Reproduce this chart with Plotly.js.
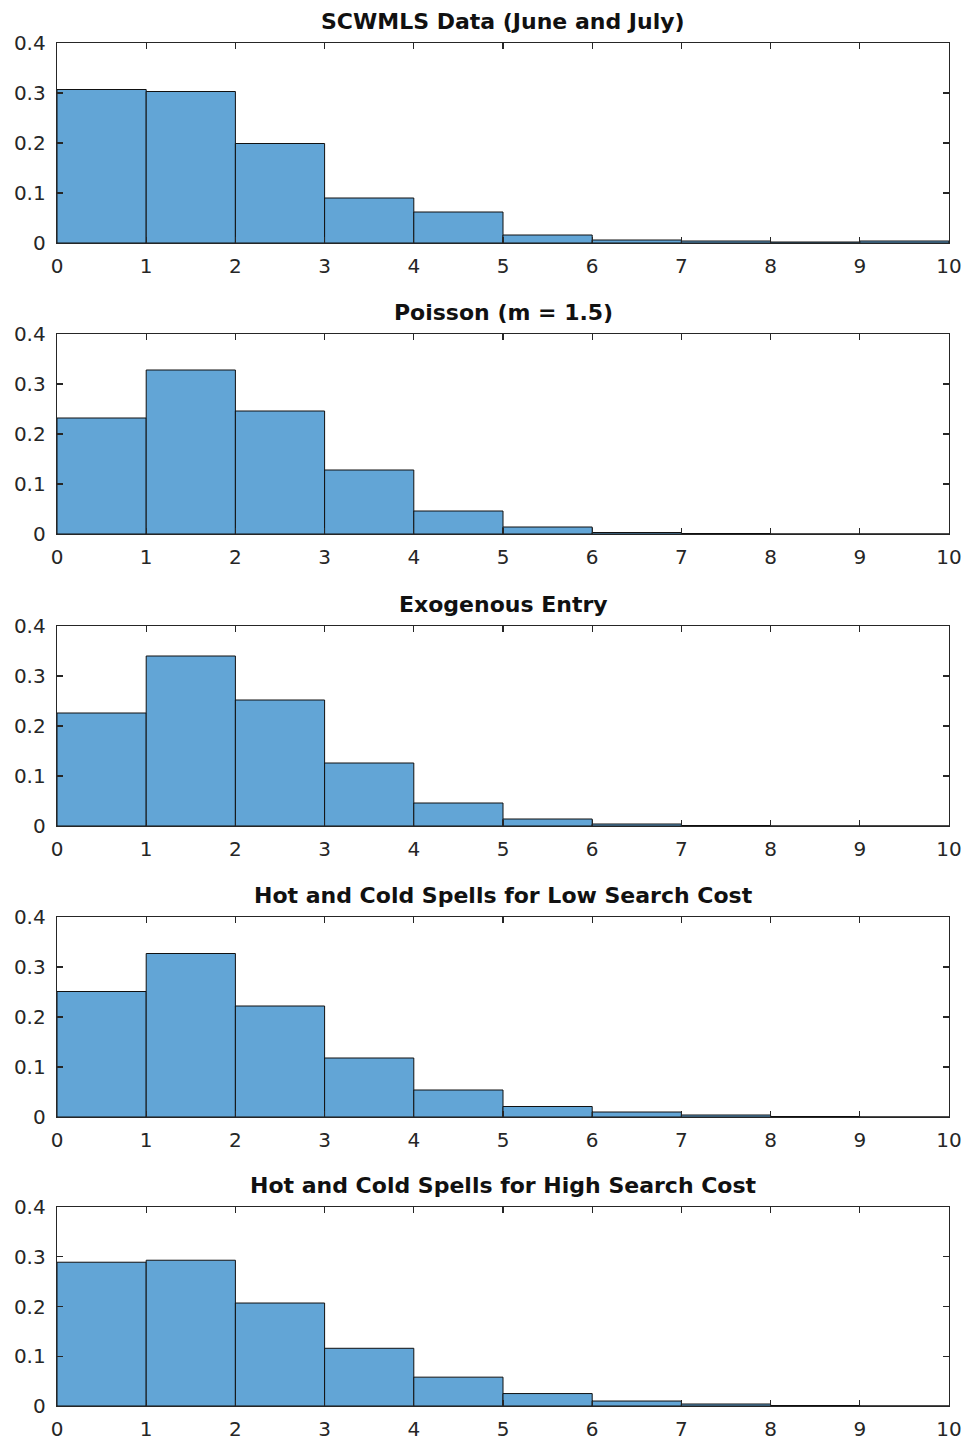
<!DOCTYPE html>
<html>
<head>
<meta charset="utf-8">
<script src="https://cdn.plot.ly/plotly-3.0.1.min.js"></script>
<style>html,body{margin:0;padding:0;background:#fff;}#chart{width:968px;height:1442px;}</style>
</head>
<body>
<div id="chart"></div>
<script>
// Histogram data (bin edges 0..10, probability per bin)
const binEdges = [0,1,2,3,4,5,6,7,8,9,10];
const titles = [
  "SCWMLS Data (June and July)",
  "Poisson (m = 1.5)",
  "Exogenous Entry",
  "Hot and Cold Spells for Low Search Cost",
  "Hot and Cold Spells for High Search Cost"
];
const scwmls   = [0.307, 0.303, 0.199, 0.090, 0.062, 0.016, 0.006, 0.004, 0.002, 0.004];
const poisson  = [0.232, 0.328, 0.246, 0.128, 0.046, 0.014, 0.003, 0.001, 0.000, 0.000];
const exogen   = [0.226, 0.340, 0.252, 0.126, 0.046, 0.014, 0.004, 0.001, 0.000, 0.000];
const lowCost  = [0.251, 0.327, 0.222, 0.118, 0.054, 0.021, 0.010, 0.004, 0.001, 0.000];
const highCost = [0.289, 0.293, 0.207, 0.116, 0.058, 0.025, 0.010, 0.004, 0.001, 0.000];
const yTicks = [0, 0.1, 0.2, 0.3, 0.4];
const yTickText = ["0", "0.1", "0.2", "0.3", "0.4"];
const xTicks = [0,1,2,3,4,5,6,7,8,9,10];

const series = [scwmls, poisson, exogen, lowCost, highCost];
const H = 1442;
const panelPx = [[43,243],[334,534],[626,826],[917,1117],[1207,1406]];
const centers = binEdges.slice(0,-1).map((e,i)=>(e+binEdges[i+1])/2);
const widths = binEdges.slice(0,-1).map((e,i)=>binEdges[i+1]-e);

const FONT = 'DejaVu Sans, Verdana, sans-serif';
const data = [];
const layout = {
  width: 968, height: 1442,
  margin: {l:57, r:19, t:0, b:0},
  paper_bgcolor: '#fff', plot_bgcolor: '#fff',
  showlegend: false,
  bargap: 0,
  font: {family: FONT, size: 18, color: '#262626'},
  annotations: []
};

series.forEach((vals, i) => {
  const n = i + 1;
  const xa = 'x' + (n === 1 ? '' : n);
  const ya = 'y' + (n === 1 ? '' : n);
  data.push({
    type: 'bar', x: centers, y: vals, width: widths,
    xaxis: xa, yaxis: ya,
    marker: {color: '#62a5d6', line: {color: '#111', width: 1}},
    hoverinfo: 'x+y'
  });
  const dom = [1 - panelPx[i][1]/H, 1 - panelPx[i][0]/H];
  const axStyle = {
    showgrid: false, zeroline: false, showline: true, mirror: 'ticks',
    linecolor: '#262626', linewidth: 1.3, ticks: 'inside', ticklen: 6,
    tickcolor: '#262626', tickwidth: 1.3,
    tickfont: {family: FONT, size: 20, color: '#262626'}
  };
  layout['xaxis' + (n === 1 ? '' : n)] = Object.assign({}, axStyle, {
    domain: [0, 1], anchor: ya, range: [0, 10],
    tickvals: xTicks, ticktext: xTicks.map(String), ticklabelstandoff: 5
  });
  layout['yaxis' + (n === 1 ? '' : n)] = Object.assign({}, axStyle, {
    domain: dom, anchor: xa, range: [0, 0.4],
    tickvals: yTicks, ticktext: yTickText, ticklabelstandoff: 6
  });
  layout.annotations.push({
    text: '<b>' + titles[i] + '</b>',
    xref: 'paper', yref: 'paper', x: 0.5, y: dom[1],
    xanchor: 'center', yanchor: 'bottom', yshift: 7, showarrow: false,
    font: {family: FONT, size: 22, color: '#111'}
  });
});

Plotly.newPlot('chart', data, layout, {displayModeBar: false, staticPlot: true});
</script>
</body>
</html>
